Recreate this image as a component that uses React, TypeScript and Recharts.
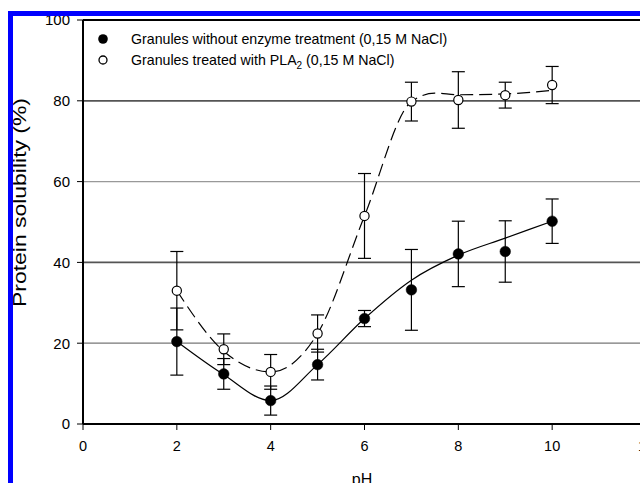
import React from 'react';
import {
  ComposedChart,
  Line,
  Scatter,
  XAxis,
  YAxis,
  ErrorBar,
  ReferenceLine,
  Legend,
  Label,
} from 'recharts';

// ---- data ----
const phValues = [2, 3, 4, 5, 6, 7, 8, 9, 10];
const untreatedMean = [20.4, 12.4, 5.8, 14.7, 26.1, 33.2, 42.1, 42.7, 50.2];
const untreatedErr = [8.3, 3.8, 3.6, 3.8, 2.0, 10.0, 8.1, 7.6, 5.5];
const treatedMean = [33.0, 18.5, 12.9, 22.4, 51.5, 79.8, 80.2, 81.4, 83.9];
const treatedErr = [9.7, 3.8, 4.3, 4.6, 10.5, 4.8, 7.0, 3.2, 4.6];

// fitted curves
const untreatedFitPh = [2, 3, 4, 5, 6, 7, 8, 9, 10];
const untreatedFitVal = [20.4, 12.2, 5.8, 14.7, 26.1, 35.6, 41.8, 46.0, 50.2];
const treatedFitPh = [2, 3, 4, 5, 6, 7, 7.5, 8, 9, 10];
const treatedFitVal = [33.0, 18.0, 12.9, 22.4, 51.5, 79.8, 81.9, 81.5, 81.7, 82.6];

const xTicks = [0, 2, 4, 6, 8, 10, 12];
const yTicks = [0, 20, 40, 60, 80, 100];
const gridDark = [40, 80];
const gridLight = [20, 60];

const legendLabels = [
  'Granules without enzyme treatment (0,15 M NaCl)',
  'Granules treated with PLA',
];
const yTitle = 'Protein solubility (%)';
const xTitle = 'pH';

const FONT = '"Liberation Sans", Arial, Helvetica, sans-serif';

const untreatedPts = phValues.map((ph, i) => ({ ph, v: untreatedMean[i], err: untreatedErr[i] }));
const treatedPts = phValues.map((ph, i) => ({ ph, v: treatedMean[i], err: treatedErr[i] }));
const untreatedFit = untreatedFitPh.map((ph, i) => ({ ph, v: untreatedFitVal[i] }));
const treatedFit = treatedFitPh.map((ph, i) => ({ ph, v: treatedFitVal[i] }));

const FilledDot = (p: any) => <circle cx={p.cx} cy={p.cy} r={5.3} fill="#000" stroke="#000" strokeWidth={0.5} />;
const OpenDot = (p: any) => <circle cx={p.cx} cy={p.cy} r={4.6} fill="#fff" stroke="#000" strokeWidth={1.2} />;

const YTitle = (props: any) => {
  const vb = props.viewBox || { x: 0, y: 20, width: 83, height: 404 };
  const cx = vb.x + 26;
  const cy = vb.y + vb.height / 2 - 19.5;
  return (
    <text
      x={cx}
      y={cy}
      transform={`rotate(-90 ${cx} ${cy})`}
      textAnchor="middle"
      fontSize={17.5}
      fontFamily={FONT}
      fill="#000"
      textLength={209}
      lengthAdjust="spacingAndGlyphs"
    >
      {yTitle}
    </text>
  );
};

const XTitle = (props: any) => {
  const vb = props.viewBox || { x: 83, y: 424, width: 563, height: 59 };
  return (
    <text
      x={vb.x + vb.width / 2 - 2.5}
      y={vb.y + 60.5}
      textAnchor="middle"
      fontSize={16}
      fontFamily={FONT}
      fill="#000"
    >
      {xTitle}
    </text>
  );
};

const LegendBox = () => (
  <div style={{ fontFamily: FONT, fontSize: 14.2, color: '#000' }}>
    <div style={{ display: 'flex', alignItems: 'center', height: 20.5 }}>
      <svg width={14} height={14} style={{ flex: 'none' }}>
        <circle cx={7} cy={7} r={4.8} fill="#000" />
      </svg>
      <span style={{ marginLeft: 21, whiteSpace: 'nowrap' }}>{legendLabels[0]}</span>
    </div>
    <div style={{ display: 'flex', alignItems: 'center', height: 20.5 }}>
      <svg width={14} height={14} style={{ flex: 'none' }}>
        <circle cx={7} cy={7} r={4} fill="#fff" stroke="#000" strokeWidth={1.3} />
      </svg>
      <span style={{ marginLeft: 21, whiteSpace: 'nowrap' }}>
        {legendLabels[1]}
        <span style={{ fontSize: 10, position: 'relative', top: 4 }}>2</span> (0,15 M NaCl)
      </span>
    </div>
  </div>
);

export default function App() {
  return (
    <div
      style={{
        position: 'absolute',
        left: 0,
        top: 0,
        width: 640,
        height: 483,
        overflow: 'hidden',
        background: '#fff',
      }}
    >
      <ComposedChart
        width={660}
        height={483}
        margin={{ top: 20, right: 14, bottom: 0, left: 0 }}
        style={{ fontFamily: FONT }}
      >
        <XAxis
          type="number"
          dataKey="ph"
          domain={[0, 12]}
          ticks={xTicks}
          interval={0}
          allowDataOverflow
          height={59}
          tickSize={6}
          tickMargin={11}
          axisLine={{ stroke: '#000', strokeWidth: 1.8 }}
          tickLine={{ stroke: '#000', strokeWidth: 1 }}
          tick={{ fill: '#000', fontSize: 14.5, fontFamily: FONT }}
        >
          <Label content={<XTitle />} />
        </XAxis>
        <YAxis
          type="number"
          domain={[0, 100]}
          ticks={yTicks}
          interval={0}
          allowDataOverflow
          width={83}
          tickSize={6}
          tickMargin={7}
          axisLine={{ stroke: '#000', strokeWidth: 2 }}
          tickLine={{ stroke: '#000', strokeWidth: 1 }}
          tick={{ fill: '#000', fontSize: 15, fontFamily: FONT }}
        >
          <Label content={<YTitle />} />
        </YAxis>
        {gridLight.map((v) => (
          <ReferenceLine key={`l${v}`} y={v} stroke={v === 60 ? '#999' : '#777'} strokeWidth={1.2} />
        ))}
        {gridDark.map((v) => (
          <ReferenceLine key={`d${v}`} y={v} stroke="#555" strokeWidth={1.7} />
        ))}
        <ReferenceLine y={100} stroke="#000" strokeWidth={1.8} />
        <Line
          data={untreatedFit}
          dataKey="v"
          type="monotone"
          stroke="#000"
          strokeWidth={1.2}
          dot={false}
          activeDot={false}
          isAnimationActive={false}
          legendType="none"
        />
        <Line
          data={treatedFit}
          dataKey="v"
          type="monotone"
          stroke="#000"
          strokeWidth={1.2}
          strokeDasharray="13 6"
          dot={false}
          activeDot={false}
          isAnimationActive={false}
          legendType="none"
        />
        <Scatter data={untreatedPts} dataKey="v" shape={<FilledDot />} isAnimationActive={false}>
          <ErrorBar dataKey="err" direction="y" width={6.5} stroke="#000" strokeWidth={1.2} />
        </Scatter>
        <Scatter data={treatedPts} dataKey="v" shape={<OpenDot />} isAnimationActive={false}>
          <ErrorBar dataKey="err" direction="y" width={6.5} stroke="#000" strokeWidth={1.2} />
        </Scatter>
        <Legend
          layout="horizontal"
          verticalAlign="middle"
          align="center"
          content={<LegendBox />}
          wrapperStyle={{ left: 96, top: 28.75, width: 420, right: 'auto', bottom: 'auto' }}
        />
      </ComposedChart>
      <div
        style={{
          position: 'absolute',
          left: 8,
          top: 11,
          width: 700,
          height: 600,
          border: '5px solid #0000ff',
          pointerEvents: 'none',
          boxSizing: 'border-box',
        }}
      />
    </div>
  );
}
